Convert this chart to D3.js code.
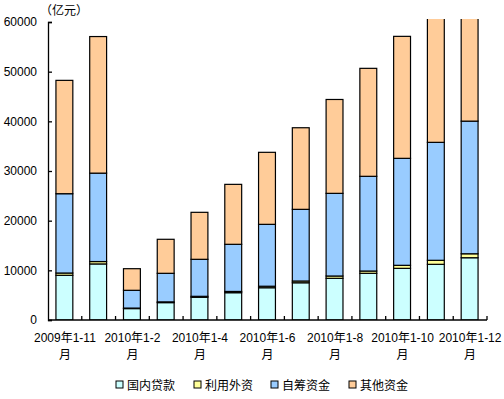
<!DOCTYPE html>
<html>
<head>
<meta charset="utf-8">
<script src="https://cdn.jsdelivr.net/npm/d3@7"></script>
<style>
  body { margin: 0; background: #fff; }
  text { font-family: "Liberation Sans", Arial, "Noto Sans CJK SC", sans-serif; font-size: 12px; fill: #000; }
</style>
</head>
<body>
<svg id="chart" width="504" height="399"></svg>
<script>
// periods (first line of label, second line is 月)
const periods = ["2009年1-11", "2009年1-12", "2010年1-2", "2010年1-3", "2010年1-4", "2010年1-5",
  "2010年1-6", "2010年1-7", "2010年1-8", "2010年1-9", "2010年1-10", "2010年1-11", "2010年1-12"];
const seriesNames = ["国内贷款", "利用外资", "自筹资金", "其他资金"];
const domesticLoans = [9000, 11290, 2300, 3500, 4570, 5500, 6500, 7500, 8390, 9400, 10400, 11210, 12540];
const foreignCapital = [460, 480, 100, 150, 200, 250, 300, 350, 470, 460, 610, 810, 796];
const selfRaised = [15970, 17800, 3580, 5750, 7450, 9490, 12460, 14430, 16640, 19070, 21540, 23750, 26705];
const otherFunds = [22820, 27500, 4350, 6850, 9460, 12070, 14500, 16430, 18900, 21740, 24560, 27000, 32903];
const yTicks = [0, 10000, 20000, 30000, 40000, 50000, 60000];
const colors = ["#CCFFFF", "#FFFF99", "#99CCFF", "#FFCC99"];

const svg = d3.select("#chart");
const plotLeft = 48, plotRight = 487, plotTop = 22, plotBottom = 320;

const table = periods.map((p, i) => ({
  period: p,
  "国内贷款": domesticLoans[i],
  "利用外资": foreignCapital[i],
  "自筹资金": selfRaised[i],
  "其他资金": otherFunds[i]
}));
const stacked = d3.stack().keys(seriesNames)(table);

const x = d3.scaleBand().domain(periods).range([plotLeft, plotRight]).paddingInner(0.5).paddingOuter(0.25);
const y = d3.scaleLinear().domain([0, 60000]).range([plotBottom, plotTop]);
const color = d3.scaleOrdinal().domain(seriesNames).range(colors);

svg.append("defs").append("clipPath").attr("id", "plotClip")
  .append("rect").attr("x", plotLeft).attr("y", plotTop - 3)
  .attr("width", plotRight - plotLeft).attr("height", plotBottom - plotTop + 3);

//bars
svg.append("g").attr("clip-path", "url(#plotClip)")
  .selectAll("g").data(stacked).join("g")
  .attr("fill", d => color(d.key))
  .selectAll("rect").data(d => d).join("rect")
  .attr("x", d => x(d.data.period) - 0.5)
  .attr("width", x.bandwidth())
  .attr("y", d => y(d[1]))
  .attr("height", d => y(d[0]) - y(d[1]))
  .attr("stroke", "#000")
  .attr("stroke-width", 1.2);

//y axis
const yAxis = svg.append("g").attr("transform", `translate(${plotLeft},0)`)
  .call(d3.axisRight(y).tickValues(yTicks).tickSize(4).tickFormat(d3.format("d")));
yAxis.select(".domain").attr("stroke", "#000").attr("stroke-width", 1.3);
yAxis.selectAll(".tick line").attr("stroke", "#000").attr("stroke-width", 1.3);
yAxis.selectAll(".tick text").attr("x", -11).attr("text-anchor", "end")
  .attr("font-size", null).attr("font-family", null).attr("fill", "#000");

//x axis
const boundaries = d3.range(periods.length + 1).map(i => plotLeft + i * (plotRight - plotLeft) / periods.length);
const xg = svg.append("g");
xg.append("line").attr("x1", plotLeft).attr("x2", plotRight).attr("y1", plotBottom).attr("y2", plotBottom)
  .attr("stroke", "#000").attr("stroke-width", 1.3);
xg.selectAll("line.tick").data(boundaries.slice(1)).join("line").attr("class", "tick")
  .attr("x1", d => d).attr("x2", d => d).attr("y1", plotBottom).attr("y2", plotBottom - 4)
  .attr("stroke", "#000").attr("stroke-width", 1.3);
const labels = xg.selectAll("text").data(periods.filter((p, i) => i % 2 === 0)).join("text")
  .attr("text-anchor", "middle")
  .attr("transform", d => `translate(${x(d) + x.bandwidth() / 2},0)`);
labels.append("tspan").attr("x", 0).attr("y", 342).text(d => d);
labels.append("tspan").attr("x", 0).attr("y", 359).text("月");

//unit
svg.append("text").attr("x", 40).attr("y", 15).text("（亿元）");

//legend
const legendX = [116, 194, 271, 349];
const legend = svg.append("g").selectAll("g").data(seriesNames).join("g")
  .attr("transform", (d, i) => `translate(${legendX[i]},381)`);
legend.append("rect").attr("width", 7).attr("height", 7)
  .attr("fill", d => color(d)).attr("stroke", "#000").attr("stroke-width", 1);
legend.append("text").attr("x", 11).attr("y", 8.5).text(d => d);
</script>
</body>
</html>
